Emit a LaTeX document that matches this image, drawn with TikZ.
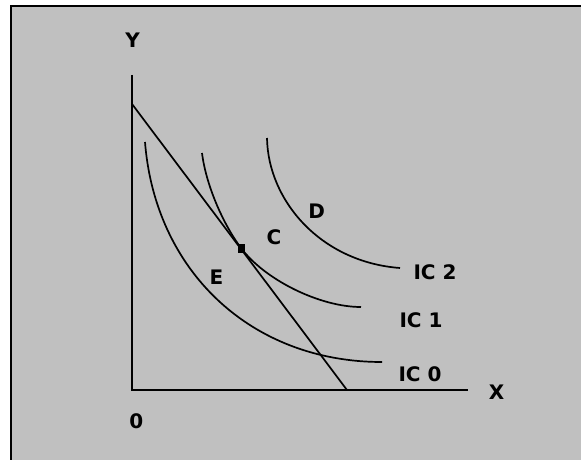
\documentclass[tikz,border=0pt]{standalone}
\usepackage{fontspec}
\setmainfont{DejaVu Sans}
\definecolor{panelGray}{RGB}{192,192,192}

\begin{document}
\begin{tikzpicture}[
  x=1pt, y=-1pt,
  lbl/.style={
    font=\fontsize{20}{20}\selectfont\bfseries,
    inner sep=0pt,
    anchor=center,
  },
  axisline/.style={line width=2.4pt},
  curve/.style={line width=1.7pt},
]

  \useasboundingbox (0,0) rectangle (581,460);

  % panel
  \fill[panelGray] (11,6) rectangle (581,460);
  \draw[line width=2pt] (11,460) -- (11,6) -- (581,6);

  % axes
  \coordinate (ytop) at (132,75);
  \coordinate (origin) at (132,390);
  \coordinate (xend) at (468,390);
  \draw[axisline] (ytop) -- (origin) -- (xend);

  \node[lbl] (ylab) at (132.5,40) {Y};
  \node[lbl] (xlab) at (496.5,392) {X};
  \node[lbl] (zero) at (136.3,421.7) {0};

  % budget line
  \coordinate (bl0) at (132,104);
  \coordinate (bl1) at (347,390);
  \draw[curve] (bl0) -- (bl1);

  % indifference curves
  \coordinate (tan) at (241,248);
  \draw[curve] (145,142) .. controls (155,270) and (250,362) .. (382,362);
  \draw[curve] (202,153) .. controls (206,185) and (223,224) .. (tan)
    .. controls (265,280) and (320,307) .. (361,307);
  \draw[curve] (267,138) .. controls (268,200) and (320,262) .. (400,268);

  \fill (237.8,244.2) rectangle (244.8,253);

  \node[lbl] (ptD) at (316.7,211.7) {D};
  \node[lbl] (ptC) at (274,237.5) {C};
  \node[lbl] (ptE) at (216.5,277) {E};
  \node[lbl] (ic2) at (435,272.5) {IC 2};
  \node[lbl] (ic1) at (421,320.5) {IC 1};
  \node[lbl] (ic0) at (420,374) {IC 0};

\end{tikzpicture}
\end{document}
